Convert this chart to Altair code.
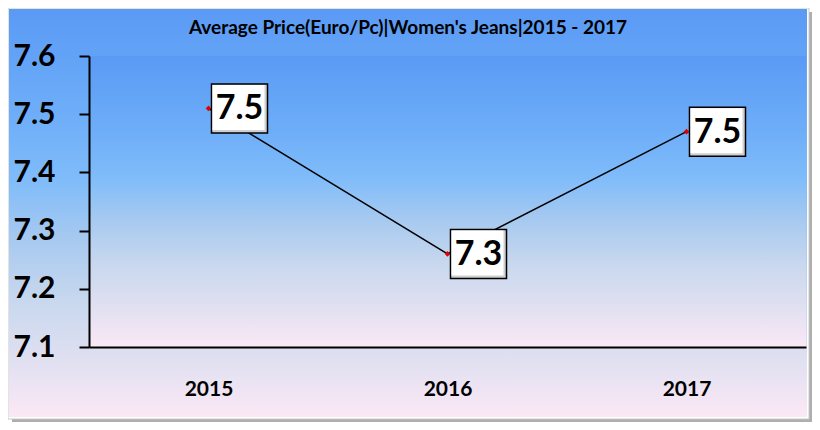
import altair as alt
import pandas as pd

years = ["2015", "2016", "2017"]
prices = [7.51, 7.26, 7.47]
y_ticks = [7.1, 7.2, 7.3, 7.4, 7.5, 7.6]
title_text = "Average Price(Euro/Pc)|Women's Jeans|2015 - 2017"

df = pd.DataFrame({"year": years, "price": prices})
one = pd.DataFrame({"k": [0]})

W, H = 717, 291
PL, PT, PR, PB = 81, 48, 6, 75
FONT = "Lato"

stops = [("#5a9af5", 0.0), ("#6dadf8", 0.25), ("#80bcfa", 0.42), ("#a6c9f0", 0.56),
         ("#c9d8ee", 0.72), ("#e0e0f1", 0.86), ("#fbe8f5", 1.0)]
grad = alt.LinearGradient(
    gradient="linear",
    stops=[alt.GradientStop(color=c, offset=o) for c, o in stops],
    x1=0, x2=0, y1=0, y2=1,
)

def vrect(x0, x1, y0, y1, **kw):
    return alt.Chart(one).mark_rect(**kw).encode(
        x=alt.value(x0), x2=alt.value(x1), y=alt.value(y0), y2=alt.value(y1)
    )

shadow = vrect(-77, 723, -44, 366, fill="#9a9a9a", opacity=0.8)
frame = vrect(-81, 720, -48, 363, fill="white", stroke="#c8c8c8", strokeWidth=1)
outer = vrect(-80, 718, -47, 361, fill=grad)
inner = vrect(0, W, 0, H, fill=grad)

title = alt.Chart(one).mark_text(
    text=title_text, font=FONT, fontSize=19, fontWeight="bold", color="black",
    align="center", baseline="alphabetic",
).encode(x=alt.value(319), y=alt.value(-22))

x_enc = alt.X("year:N", scale=alt.Scale(type="point", padding=0.5),
              axis=alt.Axis(title=None, labelAngle=0, ticks=False, labelPadding=31,
                            labelFontSize=21, domainWidth=2, zindex=2,
                            domainColor="black", labelColor="black",
                            labelFont=FONT, labelFontWeight="bold"))
y_enc = alt.Y("price:Q", scale=alt.Scale(domain=[7.1, 7.6], zero=False, nice=False),
              axis=alt.Axis(title=None, values=y_ticks, format=".1f", grid=False,
                            tickSize=10, tickWidth=2, domainWidth=2, labelPadding=24,
                            labelFontSize=30, zindex=2, domainColor="black",
                            tickColor="black", labelColor="black",
                            labelFont=FONT, labelFontWeight="bold"))

base = alt.Chart(df).encode(x=x_enc, y=y_enc)

line = base.mark_line(color="black", strokeWidth=1.5)
pts = base.mark_point(shape="diamond", filled=True, color="#e00000", size=32, opacity=1)

outer_box = "M-1,-0.875L1,-0.875L1,0.875L-1,0.875Z"
inner_box = "M-1,-0.8654L1,-0.8654L1,0.8654L-1,0.8654Z"
box1 = base.mark_point(shape=outer_box, size=56 * 56, filled=True, fill="#cfcfcf",
                       stroke="black", strokeWidth=1.5, opacity=1, xOffset=31)
box2 = base.mark_point(shape=inner_box, size=52 * 52, filled=True, fill="white",
                       strokeWidth=0, opacity=1, xOffset=30, yOffset=-1)
labels = base.mark_text(font=FONT, fontSize=34, fontWeight="bold", color="black",
                        align="center", baseline="middle", xOffset=31, dy=1).encode(
    text=alt.Text("price:Q", format=".1f"))

chart = alt.layer(line, shadow, frame, outer, inner, title, line, pts, box1, box2, labels).properties(
    width=W, height=H,
    padding={"left": PL, "top": PT, "right": PR, "bottom": PB},
    autosize=alt.AutoSizeParams(type="none"),
    background="white",
).configure_view(stroke=None)

chart.save("out.html", embed_options={"renderer": "svg", "actions": False})
